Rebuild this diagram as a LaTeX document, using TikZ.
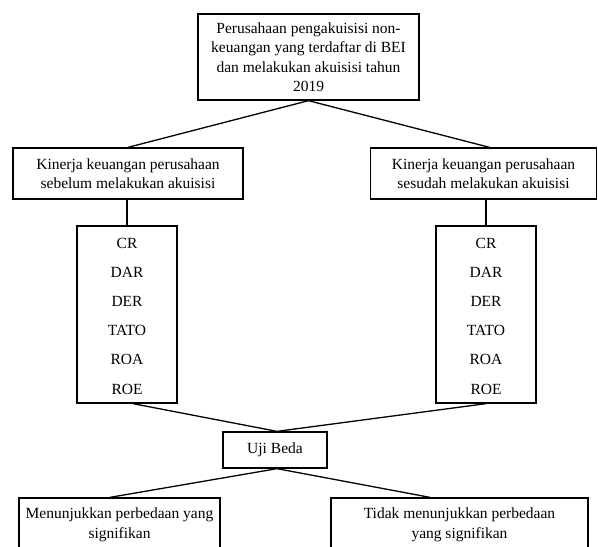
\documentclass[tikz,border=0pt]{standalone}
\usepackage{fontspec}
\setmainfont{Liberation Serif}
\begin{document}
\begin{tikzpicture}[x=1pt,y=-1pt,
  box/.style={draw, line width=1.3pt, inner sep=0pt, align=center,
    font=\fontsize{15.5}{19.5}\selectfont},
  metric/.style={inner sep=0pt, font=\fontsize{15.5}{19.5}\selectfont},
  conn/.style={line width=1.3pt}]
\useasboundingbox (0,0) rectangle (598,547);
\clip (0,0) rectangle (598,547);
\node[box, minimum width=221pt, minimum height=86pt] (top) at (308.5,57)
  {Perusahaan pengakuisisi non-\\keuangan yang terdaftar di BEI\\dan melakukan akuisisi tahun\\2019};
\node[box, minimum width=230pt, minimum height=51pt] (left) at (128,173.5)
  {Kinerja keuangan perusahaan\\sebelum melakukan akuisisi};
\node[box, minimum width=226pt, minimum height=51pt] (right) at (483.5,173.5)
  {Kinerja keuangan perusahaan\\sesudah melakukan akuisisi};
\node[box, minimum width=100pt, minimum height=177pt] (lm) at (127,314.5) {};
\node[box, minimum width=100pt, minimum height=177pt] (rm) at (486,314.5) {};
\foreach \t/\y [count=\i] in {CR/243,DAR/272,DER/301,TATO/330,ROA/359.5,ROE/389}{
  \node[metric] (lm\i) at (127,\y) {\t};
  \node[metric] (rm\i) at (486,\y) {\t};
}
\node[box, minimum width=104pt, minimum height=36pt] (uji) at (275,450) {Uji Beda};
\node[box, minimum width=201pt, minimum height=54pt] (lb) at (119.5,525)
  {Menunjukkan perbedaan yang\\signifikan};
\node[box, minimum width=257pt, minimum height=54pt] (rb) at (459.5,525)
  {Tidak menunjukkan perbedaan\\yang signifikan};
\draw[conn] (top.south) -- (left.north);
\draw[conn] (top.south) -- ([xshift=6pt]right.north);
\draw[conn] (lm.north |- left.south) -- (lm.north);
\draw[conn] (rm.north |- right.south) -- (rm.north);
\draw[conn] ([xshift=6pt]lm.south) -- ([xshift=2pt]uji.north);
\draw[conn] (rm.south) -- ([xshift=2pt]uji.north);
\draw[conn] ([xshift=2pt]uji.south) -- ([xshift=-9.5pt]lb.north);
\draw[conn] ([xshift=2pt]uji.south) -- ([xshift=-29.5pt]rb.north);
\end{tikzpicture}
\end{document}
